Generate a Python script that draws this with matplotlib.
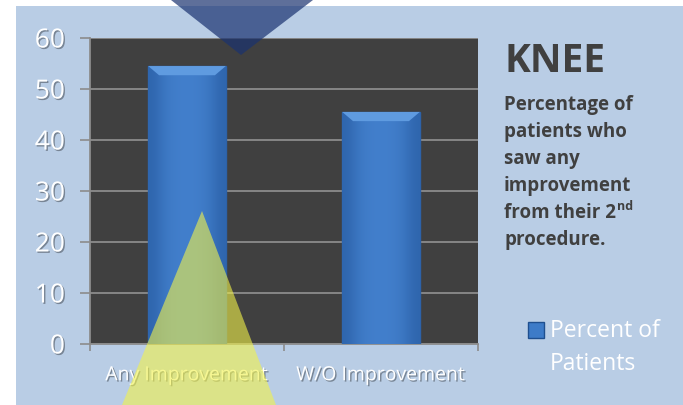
import matplotlib.pyplot as plt
import matplotlib.patheffects as pe
from matplotlib.patches import Rectangle, Polygon
from matplotlib.colors import LinearSegmentedColormap
import numpy as np

# data
categories = ['Any Improvement', 'W/O Improvement']
values = [54.5, 45.5]
yticks = [0, 10, 20, 30, 40, 50, 60]
desc_lines = ['Percentage of', 'patients who', 'saw any', 'improvement',
              'from their 2', 'procedure.']

plt.rcParams['font.family'] = ['Open Sans', 'DejaVu Sans']

W, H = 683, 405
fig = plt.figure(figsize=(W / 100, H / 100), dpi=100, facecolor='white')

# light blue panel behind everything
fig.patches.append(Rectangle((16 / W, 0), 1 - 16 / W, (H - 6) / H,
                             transform=fig.transFigure, facecolor='#b9cde5',
                             edgecolor='none', zorder=-5))

ax = fig.add_axes([90 / W, 61 / H, 388 / W, 306 / H])
ax.set_facecolor('#404040')

x = np.arange(len(categories))
bars = ax.bar(x, values, width=0.4, color='#3d7bc8', edgecolor='#2d62a8',
              linewidth=1, zorder=3)

# soft horizontal shading inside each bar
grad = np.array([[0.0, 0.7, 0.95, 1.0, 0.95, 0.7, 0.0]])
cmap = LinearSegmentedColormap.from_list('barblue', ['#2f66ae', '#427fcc'])
for b in bars:
    bx, bw, bh = b.get_x(), b.get_width(), b.get_height()
    im = ax.imshow(grad, cmap=cmap, aspect='auto', interpolation='bicubic',
                   extent=[bx, bx + bw, 0, bh], zorder=3.5)
    im.set_clip_path(b)
    # lighter bevel at top
    ax.add_patch(Polygon([[bx, bh], [bx + bw, bh], [bx + bw * 0.86, bh - 1.8],
                          [bx + bw * 0.14, bh - 1.8]], closed=True,
                         facecolor='#5f9be0', edgecolor='none', zorder=4))
ax.set_xlim(-0.5, 1.5)
ax.set_ylim(0, 60)

shadow = [pe.withSimplePatchShadow(offset=(1, -1), shadow_rgbFace='black', alpha=0.35)]

ax.set_yticks(yticks)
ax.set_yticklabels([str(v) for v in yticks], fontsize=19, color='white')
ax.tick_params(axis='y', length=7, width=1.2, color='#8c8c8c', pad=11)
ax.set_xticks(x)
ax.set_xticklabels(categories, fontsize=14, color='white')
ax.set_xticks([-0.5, 0.5, 1.5], minor=True)
ax.tick_params(axis='x', which='major', length=0, pad=16)
ax.tick_params(axis='x', which='minor', length=5, width=1.2, color='#8c8c8c')
for lab in ax.get_xticklabels() + ax.get_yticklabels():
    lab.set_path_effects(shadow)

ax.grid(axis='y', color='#8c8c8c', linewidth=1.3, zorder=1)
ax.set_axisbelow(True)
for s in ['top', 'right']:
    ax.spines[s].set_visible(False)
for s in ['left', 'bottom']:
    ax.spines[s].set_color('#8c8c8c')
    ax.spines[s].set_linewidth(1.3)

# right side text
fig.text(504 / W, 1 - 72 / H, 'KNEE', fontsize=28, fontweight='bold',
         color='#404040', va='baseline', ha='left')
for i, line in enumerate(desc_lines):
    t = fig.text(504 / W, 1 - (110 + 27 * i) / H, line, fontsize=13.5,
                 fontweight='bold', color='#404040', va='baseline', ha='left')
    if line.endswith('2'):
        fig.canvas.draw()
        ext = t.get_window_extent()
        fig.text((ext.x1 + 1) / W, 1 - (110 + 27 * i - 8) / H, 'nd',
                 fontsize=9, fontweight='bold', color='#404040',
                 va='baseline', ha='left')

# legend
fig.patches.append(Rectangle((528 / W, 1 - 338 / H), 16 / W, 16 / H,
                             transform=fig.transFigure, facecolor='#3d7bc8',
                             edgecolor='#1f4f8f', linewidth=1, zorder=2))
fig.text(550 / W, 1 - 337 / H, 'Percent of', fontsize=16.5, color='white',
         va='baseline', ha='left')
fig.text(550 / W, 1 - 370 / H, 'Patients', fontsize=16.5, color='white',
         va='baseline', ha='left')

# decorative triangles
fig.patches.append(Polygon([[171 / W, 1], [313 / W, 1], [241 / W, 1 - 55 / H]],
                           closed=True, transform=fig.transFigure,
                           facecolor='#1a3270', alpha=0.7, edgecolor='none', zorder=5))
fig.patches.append(Polygon([[202 / W, 1 - 211 / H], [122 / W, 0], [276 / W, 0]],
                           closed=True, transform=fig.transFigure,
                           facecolor='#f2f24a', alpha=0.6, edgecolor='none', zorder=5))

fig.savefig('out.png', dpi=100, facecolor='white')
